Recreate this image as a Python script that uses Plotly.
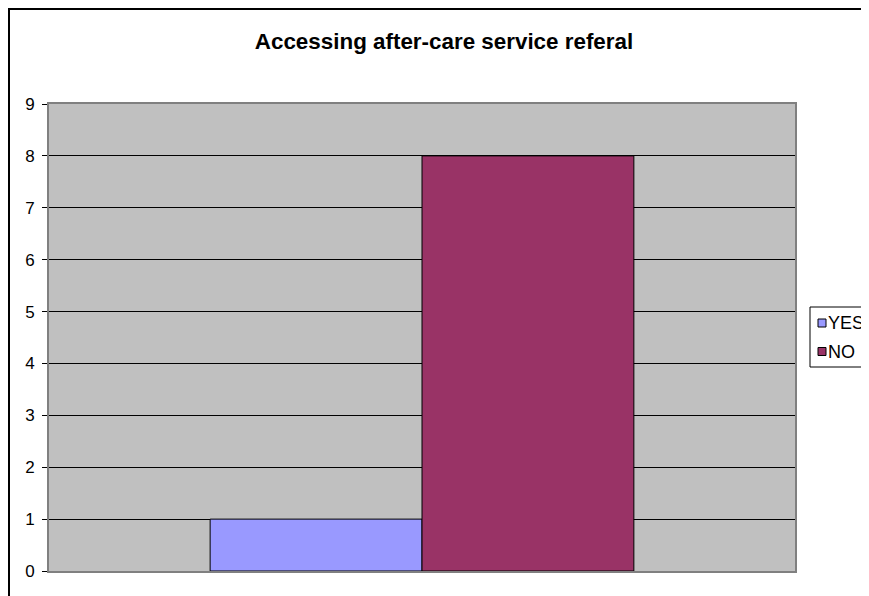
import plotly.graph_objects as go

title = "Accessing after-care service referal"
categories = ["Accessing after-care service referal"]
series_names = ["YES", "NO"]
series_values = [[1], [8]]
series_colors = ["#9999FF", "#993366"]
y_ticks = [0, 1, 2, 3, 4, 5, 6, 7, 8, 9]

# page body has an 8px margin, so the figure is drawn 8px in from the window edge
W, H = 861, 588
L, R, T, B = 41, 74, 96, 25

fig = go.Figure()
for name, vals, col in zip(series_names, series_values, series_colors):
    fig.add_trace(go.Bar(
        x=categories, y=vals, name=name, showlegend=False,
        marker=dict(color=col, line=dict(color="#000000", width=1)),
    ))

pw = W - L - R
ph = H - T - B

def px_x(p):
    return (p - L) / pw

def px_y(p):
    return (H - B - p) / ph

shapes = [
    # outer chart frame
    dict(type="rect", xref="paper", yref="paper",
         x0=px_x(1), x1=px_x(900), y0=px_y(1), y1=px_y(620),
         line=dict(color="black", width=2), fillcolor="rgba(0,0,0,0)", layer="below"),
    # legend box
    dict(type="rect", xref="paper", yref="paper",
         x0=px_x(802), x1=px_x(900), y0=px_y(299), y1=px_y(359),
         line=dict(color="black", width=1), fillcolor="white"),
]
annotations = []
row_centers = [315, 343.5]
for name, col, cy in zip(series_names, series_colors, row_centers):
    shapes.append(dict(type="rect", xref="paper", yref="paper",
                       x0=px_x(810), x1=px_x(818), y0=px_y(cy - 4), y1=px_y(cy + 4),
                       line=dict(color="black", width=1), fillcolor=col))
    annotations.append(dict(text=name, xref="paper", yref="paper",
                            x=px_x(819), y=px_y(cy), xanchor="left", yanchor="middle",
                            showarrow=False, borderpad=0,
                            font=dict(size=18, color="black")))

fig.update_layout(
    width=W, height=H,
    margin=dict(l=L, r=R, t=T, b=B, autoexpand=False),
    paper_bgcolor="white",
    plot_bgcolor="#C0C0C0",
    barmode="group",
    bargap=0.432,
    bargroupgap=0,
    font=dict(family="Arial, Liberation Sans, sans-serif", size=17, color="black"),
    title=dict(text="<b>" + title + "</b>", x=436 / W, xref="container", xanchor="center",
               y=1 - 33 / H, yanchor="middle", yref="container",
               font=dict(size=22.4, color="black")),
    showlegend=False,
    xaxis=dict(showticklabels=False, showgrid=False, zeroline=False,
               showline=True, linecolor="#808080", linewidth=2, mirror=True,
               ticks=""),
    yaxis=dict(range=[0, 9], tickvals=y_ticks, showgrid=True, gridcolor="black",
               gridwidth=1, zeroline=False, showline=True, linecolor="#808080",
               linewidth=2, mirror=True, ticks="outside", ticklen=5, tickcolor="black",
               tickfont=dict(size=17), ticklabelstandoff=4),
    shapes=shapes,
    annotations=annotations,
)

fig.write_html("out.html")
